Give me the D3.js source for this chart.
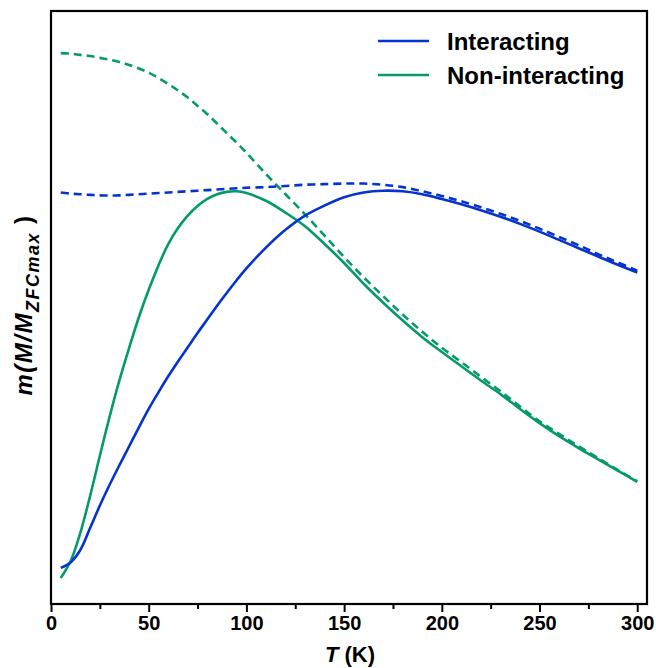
<!DOCTYPE html>
<html>
<head>
<meta charset="utf-8">
<script src="https://cdn.jsdelivr.net/npm/d3@7"></script>
<style>
  html, body { margin: 0; padding: 0; background: #fff; }
  svg { display: block; }
  text { font-family: "Liberation Sans", Arial, sans-serif; }
</style>
</head>
<body>
<svg id="chart" width="656" height="668"></svg>
<script>
// Temperature grid (K)
const temps = [5, 10, 15, 20, 25, 30, 35, 40, 45, 50, 55, 60, 65, 70, 75, 80, 85, 90, 95, 100,
               110, 120, 130, 140, 150, 160, 170, 180, 190, 200,
               210, 220, 230, 240, 250, 260, 270, 280, 290, 300];

// Interacting system: ZFC (solid) and FC (dashed)
const interZFC = [0.061, 0.070, 0.091, 0.128, 0.166, 0.201, 0.234, 0.266, 0.298, 0.329, 0.357, 0.384, 0.409, 0.433, 0.457, 0.480, 0.503, 0.525, 0.546, 0.566,
                  0.601, 0.631, 0.655, 0.672, 0.686, 0.694, 0.697, 0.696, 0.691, 0.683,
                  0.674, 0.664, 0.653, 0.641, 0.628, 0.614, 0.600, 0.586, 0.572, 0.559];
const interFC  = [0.694, 0.692, 0.691, 0.690, 0.689, 0.689, 0.689, 0.690, 0.691, 0.692, 0.693, 0.694, 0.695, 0.696, 0.697, 0.698, 0.699, 0.700, 0.701, 0.702,
                  0.703, 0.705, 0.707, 0.708, 0.709, 0.709, 0.707, 0.703, 0.696, 0.688,
                  0.679, 0.669, 0.658, 0.646, 0.633, 0.619, 0.605, 0.590, 0.576, 0.562];

// Non-interacting system: ZFC (solid) and FC (dashed)
const nonZFC   = [0.044, 0.072, 0.120, 0.182, 0.250, 0.316, 0.377, 0.432, 0.484, 0.530, 0.571, 0.607, 0.634, 0.655, 0.671, 0.683, 0.691, 0.695, 0.696, 0.693,
                  0.680, 0.660, 0.637, 0.607, 0.575, 0.540, 0.508, 0.478, 0.450, 0.425,
                  0.401, 0.377, 0.354, 0.329, 0.305, 0.283, 0.263, 0.244, 0.225, 0.206];
const nonFC    = [0.929, 0.928, 0.926, 0.924, 0.921, 0.918, 0.914, 0.909, 0.903, 0.896, 0.887, 0.877, 0.866, 0.854, 0.840, 0.826, 0.810, 0.794, 0.778, 0.761,
                  0.725, 0.691, 0.657, 0.621, 0.585, 0.551, 0.519, 0.488, 0.459, 0.432,
                  0.408, 0.383, 0.359, 0.333, 0.308, 0.287, 0.266, 0.246, 0.226, 0.207];

const xTicks = [0, 50, 100, 150, 200, 250, 300];
const xMinorTicks = [25, 75, 125, 175, 225, 275];
const legendLabels = ["Interacting", "Non-interacting"];
const colors = { inter: "#0433cf", non: "#05996b" };

const svg = d3.select("#chart");
const plot = { left: 51, right: 647, top: 11, bottom: 604 };

const x = d3.scaleLinear().domain([0, 305]).range([plot.left, plot.right]);
const y = d3.scaleLinear().domain([0, 1]).range([plot.bottom, plot.top]);

const line = d3.line()
  .x(d => x(d[0]))
  .y(d => y(d[1]))
  .curve(d3.curveCatmullRom.alpha(0.5));

const series = [
  { vals: nonFC,    color: colors.non,   dashed: true },
  { vals: interFC,  color: colors.inter, dashed: true },
  { vals: nonZFC,   color: colors.non,   dashed: false },
  { vals: interZFC, color: colors.inter, dashed: false }
];

svg.append("g").selectAll("path")
  .data(series)
  .join("path")
  .attr("d", s => line(temps.map((t, i) => [t, s.vals[i]])))
  .attr("fill", "none")
  .attr("stroke", s => s.color)
  .attr("stroke-width", 2.6)
  .attr("stroke-dasharray", s => s.dashed ? "8,5" : null);

// Frame
svg.append("rect")
  .attr("x", plot.left).attr("y", plot.top)
  .attr("width", plot.right - plot.left).attr("height", plot.bottom - plot.top)
  .attr("fill", "none").attr("stroke", "#000").attr("stroke-width", 2.2);

// Minor ticks
svg.append("g")
  .attr("transform", `translate(0,${plot.bottom})`)
  .call(d3.axisBottom(x).tickValues(xMinorTicks).tickSize(5).tickFormat(""))
  .call(g => g.select(".domain").remove())
  .call(g => g.selectAll("line").attr("stroke", "#000").attr("stroke-width", 2));

// Major ticks and labels
svg.append("g")
  .attr("transform", `translate(0,${plot.bottom})`)
  .call(d3.axisBottom(x).tickValues(xTicks).tickSize(8).tickSizeOuter(0).tickPadding(4))
  .call(g => g.select(".domain").remove())
  .call(g => g.selectAll("line").attr("stroke", "#000").attr("stroke-width", 2))
  .call(g => g.selectAll("text")
    .attr("fill", "#000")
    .style("font-family", "'Liberation Sans', Arial, sans-serif")
    .style("font-size", "20px")
    .style("font-weight", "bold"));

// X axis title
const xt = svg.append("text")
  .attr("x", 350).attr("y", 662)
  .attr("text-anchor", "middle")
  .style("font-size", "22px").style("font-weight", "bold");
xt.append("tspan").style("font-style", "italic").text("T");
xt.append("tspan").text(" (K)");

// Y axis title
const yt = svg.append("text")
  .attr("transform", "translate(32,305) rotate(-90)")
  .attr("text-anchor", "middle")
  .style("font-size", "24px").style("font-weight", "bold").style("font-style", "italic")
  .style("letter-spacing", "1.5px");
yt.append("tspan").text("m(M/M");
yt.append("tspan").attr("dy", 7).style("font-size", "18px").text("ZFCmax");
yt.append("tspan").attr("dy", -7).attr("dx", 8).style("font-style", "normal").text(")");

// Legend
const legend = svg.append("g");
legendLabels.forEach((lab, i) => {
  const ly = 41 + i * 34;
  legend.append("line")
    .attr("x1", 378).attr("x2", 429).attr("y1", ly).attr("y2", ly)
    .attr("stroke", i === 0 ? colors.inter : colors.non).attr("stroke-width", 2.6);
  legend.append("text")
    .attr("x", 447).attr("y", ly + 9)
    .style("font-size", "24px").style("font-weight", "bold")
    .text(lab);
});
</script>
</body>
</html>
